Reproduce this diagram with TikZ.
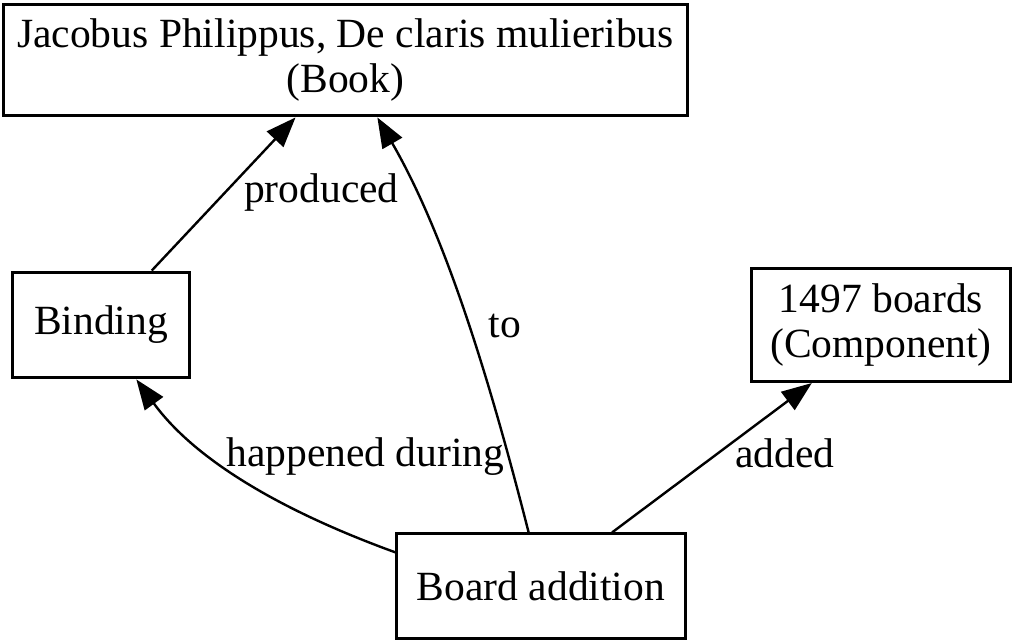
\documentclass[tikz,border=0pt]{standalone}
\usepackage{fontspec}
\setmainfont{Liberation Serif}
\usetikzlibrary{arrows.meta}

\begin{document}
\begin{tikzpicture}[
    x=0.3333pt, y=-0.3333pt,
    box/.style={rectangle, draw, line width=1pt, inner sep=0pt, align=center, font=\fontsize{13.85pt}{14.7pt}\selectfont},
    arrowlabel/.style={inner sep=0pt, font=\fontsize{13.85pt}{14.7pt}\selectfont},
    link/.style={-{Triangle[length=10pt, width=7.5pt]}, line width=0.8pt}
]
\useasboundingbox (0,0) rectangle (1013,640);
\node[box, minimum width=228.3pt, minimum height=37.3pt] (book) at (345.5,60) {Jacobus Philippus, De claris mulieribus \\ (Book)};
\node[box, minimum width=59.3pt, minimum height=35.3pt] (binding) at (101,325) {Binding};
\node[box, minimum width=86pt, minimum height=37.7pt] (boards) at (881,325) {1497 boards \\ (Component)};
\node[box, minimum width=96pt, minimum height=34.7pt] (addition) at (541,586) {Board addition};

\draw[link] (binding.47) -- (book.-131) node[arrowlabel, pos=0.446, anchor=base west, xshift=9pt] {produced};
\draw[link] (addition.103) .. controls +(-37,-145) and +(70,121) .. (book.-61) node[arrowlabel, pos=0.45, anchor=base west, xshift=5pt] {to};
\draw[link] (addition.167) .. controls +(-113,-41) and +(59,81) .. (binding.-57) node[arrowlabel, pos=0.5, anchor=base, xshift=39.9pt, yshift=4.7pt] {happened during};
\draw[link] (addition.37) -- (boards.-140) node[arrowlabel, pos=0.434, anchor=base west, xshift=11.7pt] {added};
\end{tikzpicture}
\end{document}
